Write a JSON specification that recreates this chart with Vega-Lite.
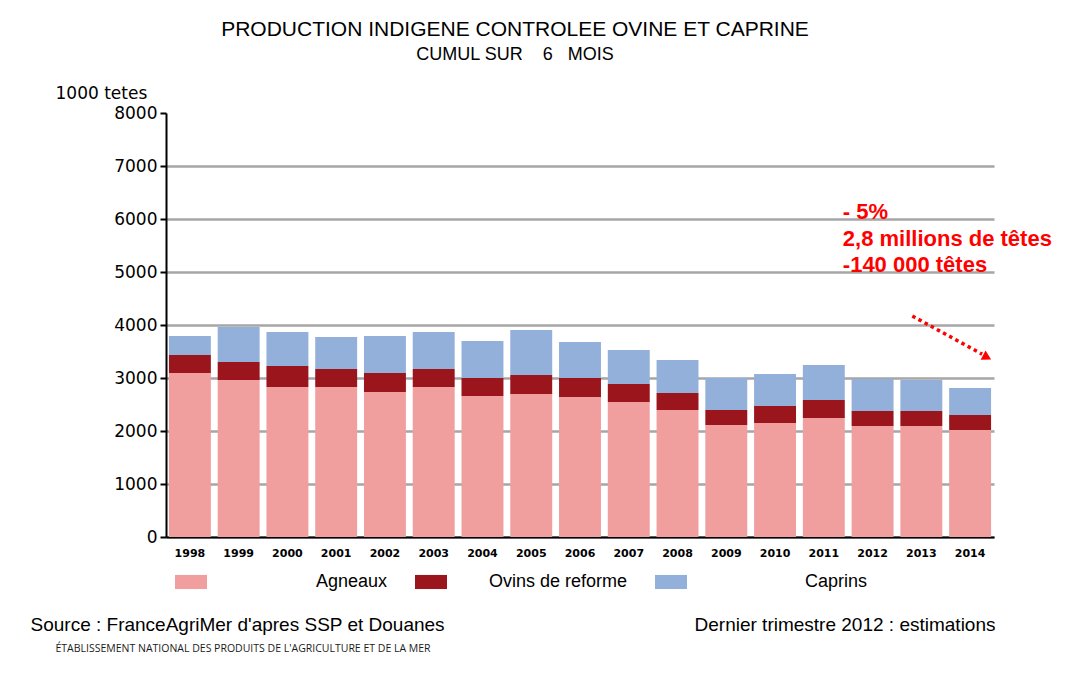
{
  "$schema": "https://vega.github.io/schema/vega-lite/v6.json",
  "width": 828,
  "height": 424,
  "autosize": {"type": "none"},
  "padding": {"left": 166, "top": 113, "right": 78, "bottom": 140},
  "background": "white",
  "title": {
    "text": "PRODUCTION INDIGENE CONTROLEE OVINE ET CAPRINE",
    "subtitle": "CUMUL SUR\u00a0\u00a0\u00a0\u00a06\u00a0\u00a0\u00a0MOIS",
    "font": "Liberation Sans",
    "fontSize": 21,
    "fontWeight": "normal",
    "color": "black",
    "subtitleFont": "Liberation Sans",
    "subtitleFontSize": 18,
    "subtitleColor": "black",
    "subtitlePadding": 6,
    "anchor": "middle",
    "frame": "group",
    "dx": -65,
    "offset": 20
  },
  "data": {
    "values": [
      {"year": "1998", "type": "Agneaux", "k": 1, "value": 3094},
      {"year": "1998", "type": "Ovins de reforme", "k": 2, "value": 340},
      {"year": "1998", "type": "Caprins", "k": 3, "value": 358},
      {"year": "1999", "type": "Agneaux", "k": 1, "value": 2962},
      {"year": "1999", "type": "Ovins de reforme", "k": 2, "value": 340},
      {"year": "1999", "type": "Caprins", "k": 3, "value": 660},
      {"year": "2000", "type": "Agneaux", "k": 1, "value": 2830},
      {"year": "2000", "type": "Ovins de reforme", "k": 2, "value": 396},
      {"year": "2000", "type": "Caprins", "k": 3, "value": 642},
      {"year": "2001", "type": "Agneaux", "k": 1, "value": 2830},
      {"year": "2001", "type": "Ovins de reforme", "k": 2, "value": 340},
      {"year": "2001", "type": "Caprins", "k": 3, "value": 604},
      {"year": "2002", "type": "Agneaux", "k": 1, "value": 2736},
      {"year": "2002", "type": "Ovins de reforme", "k": 2, "value": 358},
      {"year": "2002", "type": "Caprins", "k": 3, "value": 698},
      {"year": "2003", "type": "Agneaux", "k": 1, "value": 2830},
      {"year": "2003", "type": "Ovins de reforme", "k": 2, "value": 340},
      {"year": "2003", "type": "Caprins", "k": 3, "value": 698},
      {"year": "2004", "type": "Agneaux", "k": 1, "value": 2660},
      {"year": "2004", "type": "Ovins de reforme", "k": 2, "value": 340},
      {"year": "2004", "type": "Caprins", "k": 3, "value": 698},
      {"year": "2005", "type": "Agneaux", "k": 1, "value": 2698},
      {"year": "2005", "type": "Ovins de reforme", "k": 2, "value": 359},
      {"year": "2005", "type": "Caprins", "k": 3, "value": 849},
      {"year": "2006", "type": "Agneaux", "k": 1, "value": 2642},
      {"year": "2006", "type": "Ovins de reforme", "k": 2, "value": 358},
      {"year": "2006", "type": "Caprins", "k": 3, "value": 679},
      {"year": "2007", "type": "Agneaux", "k": 1, "value": 2547},
      {"year": "2007", "type": "Ovins de reforme", "k": 2, "value": 340},
      {"year": "2007", "type": "Caprins", "k": 3, "value": 641},
      {"year": "2008", "type": "Agneaux", "k": 1, "value": 2396},
      {"year": "2008", "type": "Ovins de reforme", "k": 2, "value": 321},
      {"year": "2008", "type": "Caprins", "k": 3, "value": 623},
      {"year": "2009", "type": "Agneaux", "k": 1, "value": 2113},
      {"year": "2009", "type": "Ovins de reforme", "k": 2, "value": 283},
      {"year": "2009", "type": "Caprins", "k": 3, "value": 604},
      {"year": "2010", "type": "Agneaux", "k": 1, "value": 2151},
      {"year": "2010", "type": "Ovins de reforme", "k": 2, "value": 321},
      {"year": "2010", "type": "Caprins", "k": 3, "value": 603},
      {"year": "2011", "type": "Agneaux", "k": 1, "value": 2245},
      {"year": "2011", "type": "Ovins de reforme", "k": 2, "value": 340},
      {"year": "2011", "type": "Caprins", "k": 3, "value": 660},
      {"year": "2012", "type": "Agneaux", "k": 1, "value": 2094},
      {"year": "2012", "type": "Ovins de reforme", "k": 2, "value": 283},
      {"year": "2012", "type": "Caprins", "k": 3, "value": 604},
      {"year": "2013", "type": "Agneaux", "k": 1, "value": 2094},
      {"year": "2013", "type": "Ovins de reforme", "k": 2, "value": 283},
      {"year": "2013", "type": "Caprins", "k": 3, "value": 585},
      {"year": "2014", "type": "Agneaux", "k": 1, "value": 2019},
      {"year": "2014", "type": "Ovins de reforme", "k": 2, "value": 283},
      {"year": "2014", "type": "Caprins", "k": 3, "value": 509}
    ]
  },
  "layer": [
    {
      "mark": {"type": "bar"},
      "encoding": {
        "x": {
          "field": "year",
          "type": "ordinal",
          "scale": {"paddingInner": 0.14, "paddingOuter": 0.06},
          "axis": {
            "orient": "bottom",
            "labelAngle": 0,
            "labelFont": "DejaVu Sans",
            "labelFontWeight": "bold",
            "labelFontSize": 11,
            "labelColor": "black",
            "labelPadding": 10,
            "ticks": false,
            "domain": true,
            "domainColor": "black",
            "domainWidth": 2,
            "grid": false,
            "title": "Source : FranceAgriMer d'apres SSP et Douanes",
            "titleFont": "Liberation Sans",
            "titleFontSize": 19,
            "titleFontWeight": "normal",
            "titleColor": "black",
            "titleAlign": "left",
            "titleBaseline": "alphabetic",
            "titleX": -136,
            "titleY": 93
          }
        },
        "y": {
          "field": "value",
          "type": "quantitative",
          "stack": "zero",
          "scale": {"domain": [0, 8000], "nice": false},
          "axis": {
            "values": [0, 1000, 2000, 3000, 4000, 5000, 6000, 7000, 8000],
            "format": "d",
            "grid": true,
            "gridColor": "#A6A6A6",
            "gridWidth": 2.5,
            "gridOpacity": {"condition": {"test": "datum.value === 8000", "value": 0}, "value": 1},
            "domain": true,
            "domainColor": "black",
            "domainWidth": 2,
            "ticks": true,
            "tickColor": "black",
            "tickWidth": 2,
            "tickSize": 6,
            "labelFont": "DejaVu Sans",
            "labelFontSize": 17,
            "labelColor": "black",
            "labelPadding": 3,
            "title": "1000 tetes",
            "titleAngle": 0,
            "titleAlign": "left",
            "titleBaseline": "alphabetic",
            "titleX": -111,
            "titleY": -15,
            "titleFont": "DejaVu Sans",
            "titleFontSize": 17,
            "titleFontWeight": "normal",
            "titleColor": "black"
          }
        },
        "order": {"field": "k", "type": "quantitative", "sort": "ascending"},
        "color": {
          "field": "type",
          "type": "nominal",
          "sort": ["Agneaux", "Ovins de reforme", "Caprins"],
          "scale": {
            "domain": ["Agneaux", "Ovins de reforme", "Caprins"],
            "range": ["#F19F9E", "#9B151D", "#92B0D9"]
          },
          "legend": {
            "orient": "none",
            "legendX": 9,
            "legendY": 453,
            "direction": "horizontal",
            "title": null,
            "padding": 0,
            "symbolType": "M-1,-0.44H1V0.44H-1Z",
            "symbolSize": 1024,
            "symbolStrokeWidth": 0,
            "symbolOpacity": 1,
            "labelAlign": "right",
            "labelOffset": 180,
            "labelFont": "Liberation Sans",
            "labelFontSize": 18,
            "labelColor": "black",
            "labelLimit": 400,
            "columnPadding": 28
          }
        }
      }
    },
    {
      "data": {"values": [{"label": "- 5%\n2,8 millions de têtes\n-140 000 têtes"}]},
      "mark": {
        "type": "text",
        "align": "left",
        "baseline": "alphabetic",
        "dx": 19,
        "font": "Liberation Sans",
        "fontSize": 22,
        "fontWeight": "bold",
        "color": "#FF0000",
        "lineBreak": "\n",
        "lineHeight": 26.5
      },
      "encoding": {
        "x": {
          "datum": "2011",
          "type": "ordinal",
          "axis": {
            "orient": "top",
            "labels": false,
            "ticks": false,
            "domain": false,
            "grid": false,
            "title": "ÉTABLISSEMENT NATIONAL DES PRODUITS DE L'AGRICULTURE ET DE LA MER",
            "titleFont": "Open Sans",
            "titleFontSize": 10.5,
            "titleFontWeight": "normal",
            "titleColor": "#1a1a1a",
            "titleAlign": "left",
            "titleBaseline": "alphabetic",
            "titleX": -111,
            "titleY": 538
          }
        },
        "y": {
          "datum": 6000,
          "type": "quantitative",
          "axis": {
            "orient": "right",
            "labels": false,
            "ticks": false,
            "domain": false,
            "grid": false,
            "title": "Dernier trimestre 2012 : estimations",
            "titleFont": "Liberation Sans",
            "titleFontSize": 19,
            "titleFontWeight": "normal",
            "titleColor": "black",
            "titleAngle": 0,
            "titleAlign": "right",
            "titleBaseline": "alphabetic",
            "titleX": 1,
            "titleY": 517
          }
        },
        "text": {"field": "label"}
      }
    },
    {
      "data": {"values": [{}]},
      "mark": {
        "type": "rule",
        "color": "#FF0000",
        "strokeWidth": 3.5,
        "strokeDash": [3.5, 3.5],
        "xOffset": -9,
        "x2Offset": 12
      },
      "encoding": {
        "x": {"datum": "2013", "type": "ordinal", "axis": null},
        "x2": {"datum": "2014"},
        "y": {"datum": 4170, "type": "quantitative", "axis": null},
        "y2": {"datum": 3450}
      }
    },
    {
      "data": {"values": [{}]},
      "mark": {
        "type": "point",
        "shape": "triangle-right",
        "filled": true,
        "color": "#FF0000",
        "opacity": 1,
        "size": 110,
        "angle": 28,
        "xOffset": 17
      },
      "encoding": {
        "x": {"datum": "2014", "type": "ordinal", "axis": null},
        "y": {"datum": 3390, "type": "quantitative", "axis": null}
      }
    }
  ],
  "resolve": {"axis": {"x": "independent", "y": "independent"}},
  "config": {"view": {"stroke": null}}
}
